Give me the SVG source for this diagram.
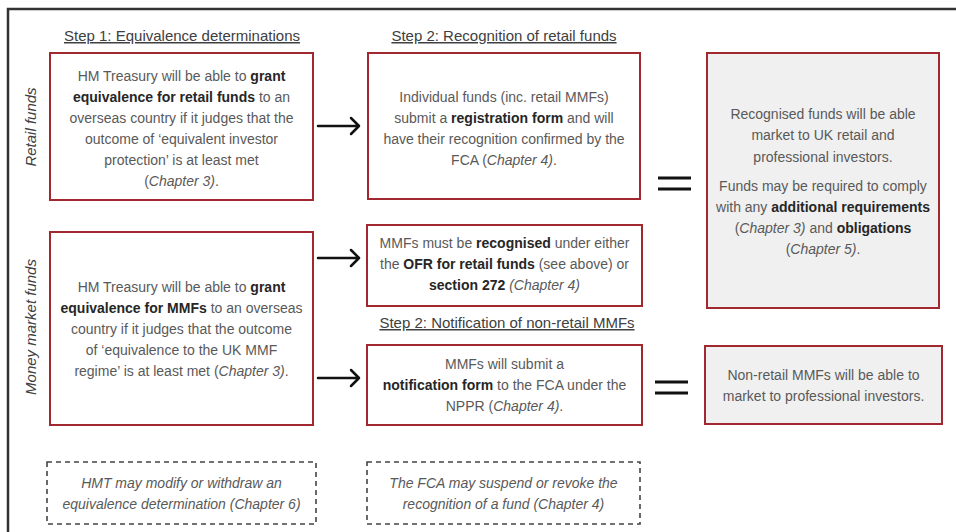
<svg xmlns="http://www.w3.org/2000/svg" width="956" height="532" viewBox="0 0 956 532">
<style>
.frame{stroke:#333;stroke-width:2.5;fill:none}
.box{fill:#fff;stroke:#a0282e;stroke-width:2}
.grey{fill:#f0f0f0;stroke:#a0282e;stroke-width:2}
.dash{fill:#fff;stroke:#444;stroke-width:1.6;stroke-dasharray:5 4}
text{font-family:"Liberation Sans",Arial,sans-serif;font-size:14px;fill:#595959;text-anchor:middle}
.h{font-size:15px;fill:#404040;text-decoration:underline}
.b{font-weight:bold;fill:#262626}
.i{font-style:italic}
.lab{font-size:15px;font-style:italic;fill:#404040;dominant-baseline:central}
.arr{stroke:#111;stroke-width:2.5;fill:none;stroke-linecap:round;stroke-linejoin:round}
.eq{stroke:#111;stroke-width:3}
</style>
<rect width="956" height="532" fill="#fff"/>
<path class="frame" d="M8,532 V9 H956"/>

<text class="h" x="182" y="41">Step 1: Equivalence determinations</text>
<text class="h" x="504" y="41">Step 2: Recognition of retail funds</text>
<text class="h" x="507" y="328">Step 2: Notification of non-retail MMFs</text>

<text class="lab" transform="translate(30,127) rotate(-90)">Retail funds</text>
<text class="lab" transform="translate(30,327) rotate(-90)">Money market funds</text>

<g id="connectors">
<path class="arr" d="M318,126 H359 M351,118 L359,126 L351,134"/>
<path class="arr" d="M318,258 H359 M351,250 L359,258 L351,266"/>
<path class="arr" d="M318,378 H359 M351,370 L359,378 L351,386"/>
<path class="eq" d="M658,178 H691 M658,189 H691"/>
<path class="eq" d="M655,382 H688 M655,393 H688"/>
</g>

<g id="n1">
<rect class="box" x="50" y="53" width="263" height="147"/>
<text x="181.5" y="81">HM Treasury will be able to <tspan class="b">grant</tspan></text>
<text x="181.5" y="102"><tspan class="b">equivalence for retail funds</tspan> to an</text>
<text x="181.5" y="123">overseas country if it judges that the</text>
<text x="181.5" y="144">outcome of ‘equivalent investor</text>
<text x="181.5" y="165">protection’ is at least met</text>
<text x="181.5" y="186">(<tspan class="i">Chapter 3)</tspan>.</text>
</g>

<g id="n2">
<rect class="box" x="368" y="53" width="272" height="146"/>
<text x="504" y="102">Individual funds (inc. retail MMFs)</text>
<text x="504" y="123">submit a <tspan class="b">registration form</tspan> and will</text>
<text x="504" y="144">have their recognition confirmed by the</text>
<text x="504" y="165">FCA (<tspan class="i">Chapter 4)</tspan>.</text>
</g>

<g id="n3">
<rect class="grey" x="707" y="53" width="232" height="255"/>
<text x="823" y="119">Recognised funds will be able</text>
<text x="823" y="140">market to UK retail and</text>
<text x="823" y="162">professional investors.</text>
<text x="823" y="191">Funds may be required to comply</text>
<text x="823" y="212">with any <tspan class="b">additional requirements</tspan></text>
<text x="823" y="233">(<tspan class="i">Chapter 3)</tspan> and <tspan class="b">obligations</tspan></text>
<text x="823" y="254">(<tspan class="i">Chapter 5)</tspan>.</text>
</g>

<g id="n4">
<rect class="box" x="50" y="232" width="263" height="193"/>
<text x="181.5" y="292">HM Treasury will be able to <tspan class="b">grant</tspan></text>
<text x="181.5" y="313"><tspan class="b">equivalence for MMFs</tspan> to an overseas</text>
<text x="181.5" y="334">country if it judges that the outcome</text>
<text x="181.5" y="355">of ‘equivalence to the UK MMF</text>
<text x="181.5" y="376">regime’ is at least met (<tspan class="i">Chapter 3)</tspan>.</text>
</g>

<g id="n5">
<rect class="box" x="367" y="225" width="275" height="81"/>
<text x="504.5" y="248">MMFs must be <tspan class="b">recognised</tspan> under either</text>
<text x="504.5" y="269">the <tspan class="b">OFR for retail funds</tspan> (see above) or</text>
<text x="504.5" y="290"><tspan class="b">section 272</tspan> <tspan class="i">(Chapter 4)</tspan></text>
</g>

<g id="n6">
<rect class="box" x="367" y="345" width="275" height="80"/>
<text x="504.5" y="369">MMFs will submit a</text>
<text x="504.5" y="390"><tspan class="b">notification form</tspan> to the FCA under the</text>
<text x="504.5" y="411">NPPR (<tspan class="i">Chapter 4)</tspan>.</text>
</g>

<g id="n7">
<rect class="grey" x="705" y="346" width="237" height="78"/>
<text x="823.5" y="380">Non-retail MMFs will be able to</text>
<text x="823.5" y="401">market to professional investors.</text>
</g>

<g id="n8">
<rect class="dash" x="47" y="462" width="269" height="62"/>
<text class="i" x="181.5" y="488">HMT may modify or withdraw an</text>
<text class="i" x="181.5" y="509">equivalence determination (Chapter 6)</text>
</g>

<g id="n9">
<rect class="dash" x="367" y="462" width="273" height="62"/>
<text class="i" x="503.5" y="488">The FCA may suspend or revoke the</text>
<text class="i" x="503.5" y="509">recognition of a fund (Chapter 4)</text>
</g>
</svg>
